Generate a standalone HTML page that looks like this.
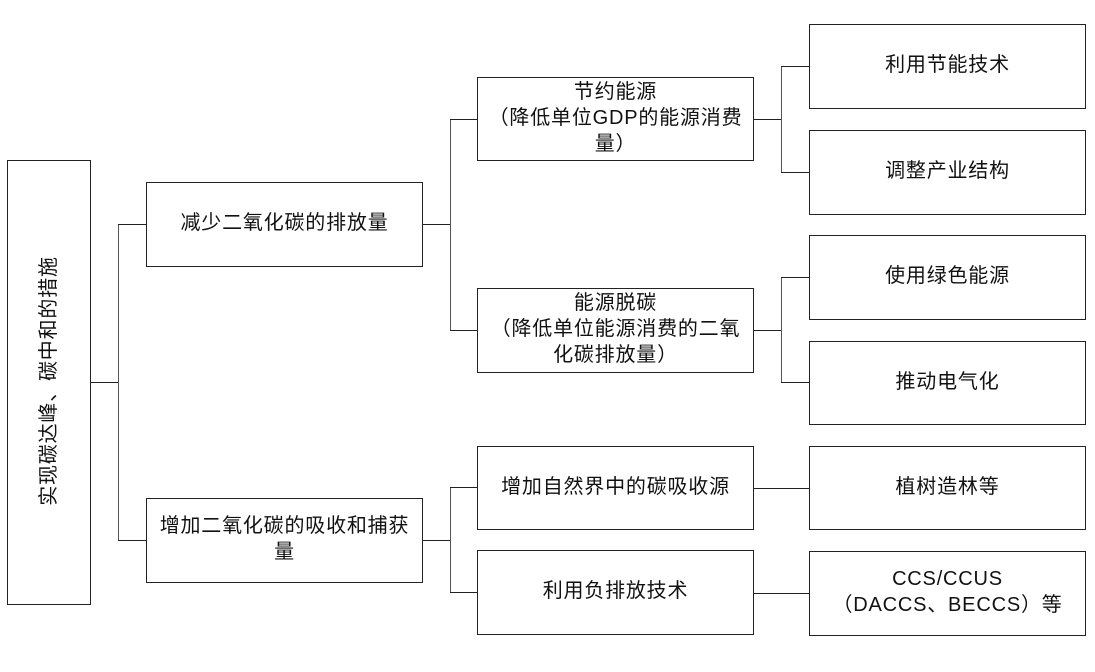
<!DOCTYPE html><html><head><meta charset="utf-8"><style>
body{margin:0;width:1095px;height:672px;background:#fff;position:relative;overflow:hidden;font-family:"Liberation Sans","Noto Sans CJK SC",sans-serif;color:#111}
.b{position:absolute;border:1.3px solid #222;box-sizing:border-box;display:flex;align-items:center;justify-content:center;text-align:center;font-size:20px;line-height:26px;letter-spacing:0.8px;background:#fff;padding-bottom:3px}
.h{position:absolute;height:0;border-top:1.3px solid #222}
.v{position:absolute;width:0;border-left:1.3px solid #555}
</style></head><body>
<div class="b" style="left:7px;top:160px;width:84px;height:445px"><div style="transform:rotate(-90deg);white-space:nowrap;font-size:20px">实现碳达峰、碳中和的措施</div></div>
<div class="b" style="left:146px;top:182px;width:277px;height:85px">减少二氧化碳的排放量</div>
<div class="b" style="left:146px;top:498px;width:277px;height:85px">增加二氧化碳的吸收和捕获<br>量</div>
<div class="b" style="left:477px;top:77px;width:277px;height:84px">节约能源<br>（降低单位GDP的能源消费<br>量）</div>
<div class="b" style="left:477px;top:288px;width:277px;height:85px">能源脱碳<br>（降低单位能源消费的二氧<br>化碳排放量）</div>
<div class="b" style="left:477px;top:446px;width:277px;height:84px">增加自然界中的碳吸收源</div>
<div class="b" style="left:477px;top:550px;width:277px;height:85px">利用负排放技术</div>
<div class="b" style="left:809px;top:24px;width:277px;height:85px">利用节能技术</div>
<div class="b" style="left:809px;top:130px;width:277px;height:85px">调整产业结构</div>
<div class="b" style="left:809px;top:235px;width:277px;height:85px">使用绿色能源</div>
<div class="b" style="left:809px;top:341px;width:277px;height:84px">推动电气化</div>
<div class="b" style="left:809px;top:446px;width:277px;height:84px">植树造林等</div>
<div class="b" style="left:809px;top:551px;width:277px;height:85px">CCS/CCUS<br>（DACCS、BECCS）等</div>
<div class="h" style="left:90px;top:382px;width:28px"></div>
<div class="v" style="left:118px;top:224px;height:317px"></div>
<div class="h" style="left:118px;top:224px;width:28px"></div>
<div class="h" style="left:118px;top:540px;width:28px"></div>
<div class="h" style="left:422px;top:224px;width:28px"></div>
<div class="v" style="left:450px;top:119px;height:211px"></div>
<div class="h" style="left:450px;top:119px;width:27px"></div>
<div class="h" style="left:450px;top:330px;width:27px"></div>
<div class="h" style="left:422px;top:540px;width:28px"></div>
<div class="v" style="left:450px;top:487px;height:105px"></div>
<div class="h" style="left:450px;top:487px;width:27px"></div>
<div class="h" style="left:450px;top:592px;width:27px"></div>
<div class="h" style="left:753px;top:119px;width:28px"></div>
<div class="v" style="left:781px;top:66px;height:106px"></div>
<div class="h" style="left:781px;top:66px;width:28px"></div>
<div class="h" style="left:781px;top:172px;width:28px"></div>
<div class="h" style="left:753px;top:330px;width:28px"></div>
<div class="v" style="left:781px;top:277px;height:105px"></div>
<div class="h" style="left:781px;top:277px;width:28px"></div>
<div class="h" style="left:781px;top:382px;width:28px"></div>
<div class="h" style="left:753px;top:488px;width:56px"></div>
<div class="h" style="left:753px;top:593px;width:56px"></div>
</body></html>
